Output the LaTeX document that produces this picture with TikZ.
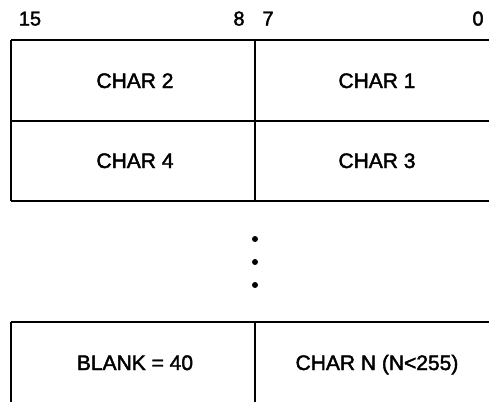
\documentclass[tikz,border=0pt]{standalone}
\usepackage{fontspec}
\setmainfont[FakeBold=2]{Liberation Sans}
\usepackage{tikz}

\begin{document}
\begin{tikzpicture}[x=1pt, y=-1pt,
    grid/.style={line width=1.8pt},
    cell/.style={anchor=base, font=\fontsize{21}{24}\selectfont},
    bit/.style={anchor=base, font=\fontsize{20}{24}\selectfont},
    dot/.style={circle, fill, inner sep=0pt, minimum size=6pt}]
            \useasboundingbox (0, 0) rectangle (489, 402);

            %bit numbers over the word
            \node[bit] (b15) at (30, 25.5) {15};
            \node[bit] (b8) at (239, 25.5) {8};
            \node[bit] (b7) at (268, 25.5) {7};
            \node[bit] (b0) at (478, 25.5) {0};

            %the first two words
            \draw[grid] (11, 40) -- (489, 40);
            \draw[grid] (11, 121) -- (489, 121);
            \draw[grid] (11, 201) -- (489, 201);
            \draw[grid] (11, 40) -- (11, 201);
            \draw[grid] (255, 40) -- (255, 201);

            \node[cell] (c2) at (135, 88) {CHAR 2};
            \node[cell] (c1) at (377, 88) {CHAR 1};
            \node[cell] (c4) at (135, 168) {CHAR 4};
            \node[cell] (c3) at (377, 168) {CHAR 3};

            %dots between the words
            \node[dot] (d1) at (255, 239) {};
            \node[dot] (d2) at (255, 262) {};
            \node[dot] (d3) at (255, 285) {};

            %the last word
            \draw[grid] (11, 322) -- (489, 322);
            \draw[grid] (11, 322) -- (11, 402);
            \draw[grid] (255, 322) -- (255, 402);

            \node[cell] (blank) at (135, 370) {BLANK = 40};
            \node[cell] (cn) at (377, 370) {CHAR N (N<255)};

        \end{tikzpicture}
\end{document}
